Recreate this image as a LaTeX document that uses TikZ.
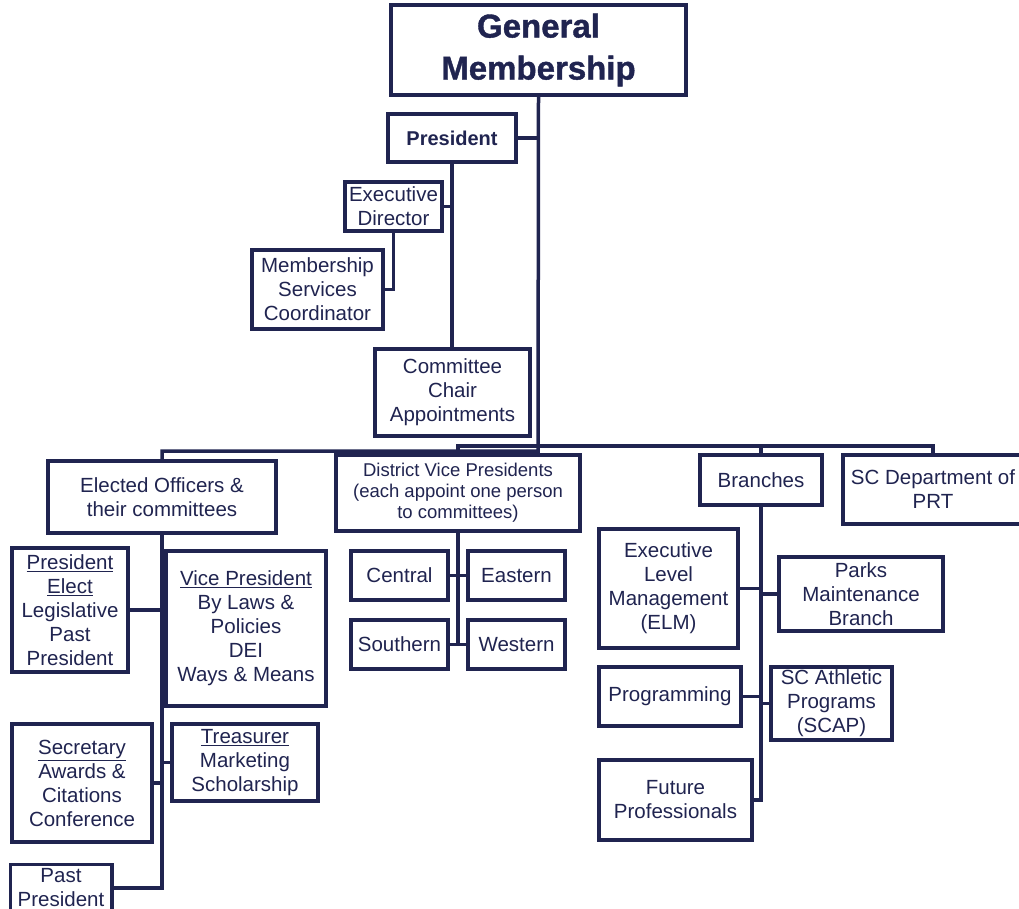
\documentclass[tikz,border=0pt]{standalone}
\usepackage{fontspec}
\setmainfont{Liberation Sans}
\newfontfamily\gmfont[FakeBold=1.2]{Liberation Sans Bold}
\definecolor{navy}{RGB}{32,36,80}
\begin{document}
\begin{tikzpicture}[x=1pt,y=-1pt,
  box/.style={draw=navy, line width=3.5pt, inner sep=0pt, align=center, text=navy,
    font=\fontsize{20.5}{24}\selectfont},
  small/.style={font=\fontsize{18.5}{21}\selectfont},
  link/.style={draw=navy, line width=3.5pt, line cap=rect}]
\useasboundingbox (0,0) rectangle (1019,909);
\clip (0,0) rectangle (1019,909);
\fill[white] (0,0) rectangle (1019,909);
% top
\node[box, minimum width=295pt, minimum height=90pt, font=\fontsize{33}{42}\gmfont] (gm) at (538.5,50) {General\\Membership};
\node[box, minimum width=128pt, minimum height=48pt, font=\fontsize{20}{24}\selectfont\bfseries] (pres) at (452,138) {President};
\node[box, minimum width=97pt, minimum height=49pt] (exd) at (393.5,206.5) {Executive\\Director};
\node[box, minimum width=131pt, minimum height=79pt] (msc) at (317.5,289.5) {Membership\\Services\\Coordinator};
\node[box, minimum width=155pt, minimum height=87pt] (cca) at (452.5,392.5) {Committee\\Chair\\Appointments};
% elected officers
\node[box, minimum width=228pt, minimum height=72pt] (eo) at (162,497) {Elected Officers \&\\their committees};
\node[box, minimum width=116pt, minimum height=124pt] (pe) at (70,610) {\underline{President}\\\underline{Elect}\\Legislative\\Past\\President};
\node[box, minimum width=160pt, minimum height=155pt] (vp) at (246,628.5) {\underline{Vice President}\\By Laws \&\\Policies\\DEI\\Ways \& Means};
\node[box, minimum width=140pt, minimum height=118pt] (sec) at (82,783) {\underline{Secretary}\\Awards \&\\Citations\\Conference};
\node[box, minimum width=146pt, minimum height=77pt] (tre) at (245,762.5) {\underline{Treasurer}\\Marketing\\Scholarship};
\node[box, draw=none, minimum width=98pt, minimum height=48pt] (pp) at (61,888) {Past\\President};
\draw[navy, line width=3.5pt] ([yshift=-2pt]pp.north west) rectangle ([yshift=-60pt]pp.south east);
% district
\node[box, small, minimum width=244pt, minimum height=76pt] (dvp) at (458,493) {District Vice Presidents\\(each appoint one person\\to committees)};
\node[box, minimum width=97pt, minimum height=49pt] (cen) at (399.5,575.5) {Central};
\node[box, minimum width=97pt, minimum height=49pt] (eas) at (516.5,575.5) {Eastern};
\node[box, minimum width=97pt, minimum height=49pt] (sou) at (399.5,644.5) {Southern};
\node[box, minimum width=97pt, minimum height=49pt] (wes) at (516.5,644.5) {Western};
% branches
\node[box, minimum width=122pt, minimum height=50pt] (br) at (761,480) {Branches};
\node[box, minimum width=180pt, minimum height=69pt] (scd) at (933,489.5) {SC Department of\\PRT};
\node[box, minimum width=139pt, minimum height=119pt] (elm) at (668.5,588.5) {Executive\\Level\\Management\\(ELM)};
\node[box, minimum width=164pt, minimum height=74pt] (pmb) at (861,594) {Parks\\Maintenance\\Branch};
\node[box, minimum width=142pt, minimum height=59pt] (prg) at (670,696.5) {Programming};
\node[box, minimum width=121pt, minimum height=73pt] (scap) at (831.5,703.5) {SC Athletic\\Programs\\(SCAP)};
\node[box, minimum width=153pt, minimum height=80pt] (fp) at (675.5,800) {Future\\Professionals};
% junctions
\coordinate (j1) at (538,451);
\coordinate (j2) at (538,446);
% connectors
\draw[link] (gm.south) -- (j1) -| (eo.north);
\draw[link] (j2) -| (dvp.north);
\draw[link] (j2) -| (br.north);
\draw[link] (j2) -| (scd.north);
\draw[link] (pres.east) -- (pres.east -| gm.south);
\draw[link] (pres.south) -- (pres.south |- cca.north);
\draw[link] (exd.east) -- (exd.east -| pres.south);
\draw[link] (exd.south) |- (msc.east);
\draw[link] (eo.south) |- (pp.east);
\draw[link] (pe.east) -- (pe.east -| eo.south);
\draw[link] (vp.west) -- (vp.west -| eo.south);
\draw[link] (tre.west) -- (tre.west -| eo.south);
\draw[link] (sec.east) -- (sec.east -| eo.south);
\draw[link] (dvp.south) -- (dvp.south |- wes.west);
\draw[link] (cen.east) -- (cen.east -| dvp.south);
\draw[link] (eas.west) -- (eas.west -| dvp.south);
\draw[link] (sou.east) -- (sou.east -| dvp.south);
\draw[link] (wes.west) -- (wes.west -| dvp.south);
\draw[link] (br.south) |- (fp.east);
\draw[link] (elm.east) -- (elm.east -| br.south);
\draw[link] (pmb.west) -- (pmb.west -| br.south);
\draw[link] (prg.east) -- (prg.east -| br.south);
\draw[link] (scap.west) -- (scap.west -| br.south);
\end{tikzpicture}
\end{document}
